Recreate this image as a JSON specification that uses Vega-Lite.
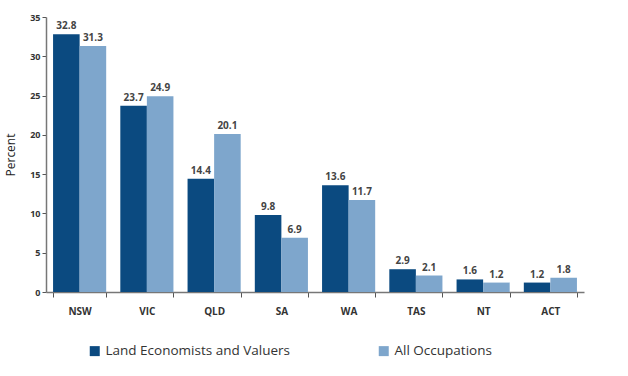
{
  "$schema": "https://vega.github.io/schema/vega-lite/v6.json",
  "autosize": "none",
  "width": 538,
  "height": 275,
  "padding": {"left": 46, "top": 17, "right": 44, "bottom": 84},
  "background": "white",
  "config": {"view": {"stroke": null}, "font": "Open Sans"},
  "data": {"values": [
    {"state": "NSW", "group": "Land Economists and Valuers", "value": 32.8},
    {"state": "NSW", "group": "All Occupations", "value": 31.3},
    {"state": "VIC", "group": "Land Economists and Valuers", "value": 23.7},
    {"state": "VIC", "group": "All Occupations", "value": 24.9},
    {"state": "QLD", "group": "Land Economists and Valuers", "value": 14.4},
    {"state": "QLD", "group": "All Occupations", "value": 20.1},
    {"state": "SA", "group": "Land Economists and Valuers", "value": 9.8},
    {"state": "SA", "group": "All Occupations", "value": 6.9},
    {"state": "WA", "group": "Land Economists and Valuers", "value": 13.6},
    {"state": "WA", "group": "All Occupations", "value": 11.7},
    {"state": "TAS", "group": "Land Economists and Valuers", "value": 2.9},
    {"state": "TAS", "group": "All Occupations", "value": 2.1},
    {"state": "NT", "group": "Land Economists and Valuers", "value": 1.6},
    {"state": "NT", "group": "All Occupations", "value": 1.2},
    {"state": "ACT", "group": "Land Economists and Valuers", "value": 1.2},
    {"state": "ACT", "group": "All Occupations", "value": 1.8}
  ]},
  "encoding": {
    "x": {"field": "state", "type": "nominal", "sort": null,
      "scale": {"paddingInner": 0.21, "paddingOuter": 0.105},
      "axis": {"title": null, "labelAngle": 0, "labelFont": "Open Sans", "labelFontWeight": "bold", "labelFontSize": 10, "labelColor": "#333", "labelPadding": 9,
        "tickBand": "extent", "tickSize": 5, "tickColor": "#555", "domainColor": "#777", "domainWidth": 1.5}},
    "xOffset": {"field": "group", "type": "nominal", "sort": ["Land Economists and Valuers", "All Occupations"]},
    "y": {"field": "value", "type": "quantitative",
      "scale": {"domain": [0, 35]},
      "axis": {"title": "Percent", "titleFont": "Open Sans", "titleFontWeight": "normal", "titleFontSize": 12, "titleColor": "#222", "titlePadding": 12,
        "values": [0, 5, 10, 15, 20, 25, 30, 35], "grid": false, "labelFont": "Open Sans", "labelFontWeight": "bold", "labelFontSize": 9, "labelColor": "#333",
        "tickSize": 4, "tickColor": "#555", "domainColor": "#777", "domainWidth": 1.5}}
  },
  "layer": [
    {"mark": {"type": "bar"},
      "encoding": {
        "color": {"field": "group", "type": "nominal", "sort": ["Land Economists and Valuers", "All Occupations"],
          "scale": {"domain": ["Land Economists and Valuers", "All Occupations"], "range": ["#0B4A80", "#7EA6CC"]},
          "legend": {"title": null, "orient": "none", "legendX": 42, "legendY": 327, "direction": "horizontal",
            "symbolType": "square", "symbolSize": 100, "symbolStrokeWidth": 0, "labelFont": "Open Sans", "labelFontSize": 13.5, "labelColor": "#333", "columnPadding": 87, "labelLimit": 300}}
      }},
    {"mark": {"type": "text", "dy": -8, "fontWeight": "bold", "fontSize": 10, "font": "Open Sans", "color": "#444"},
      "encoding": {"text": {"field": "value", "type": "quantitative", "format": ".1f"}}}
  ]
}
